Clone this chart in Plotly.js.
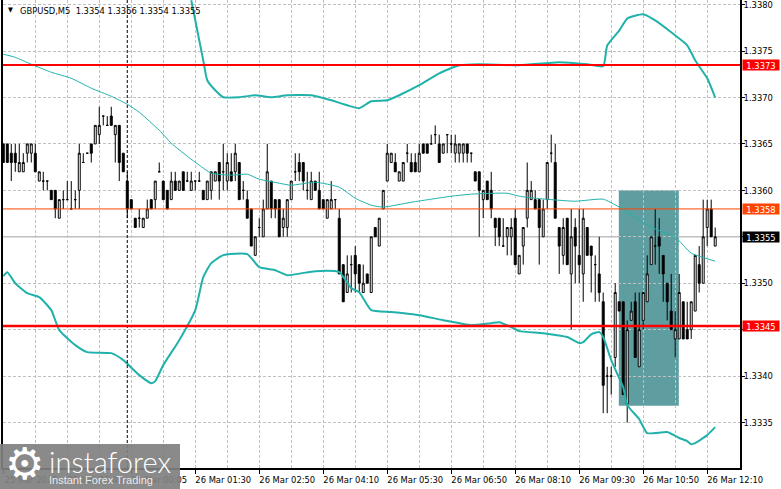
<!DOCTYPE html>
<html>
<head>
<meta charset="utf-8">
<script src="https://cdn.plot.ly/plotly-3.0.1.min.js"></script>
<style>
  html, body { margin: 0; padding: 0; background: #ffffff; }
  #chart { width: 781px; height: 489px; }
</style>
</head>
<body>
<div id="chart"></div>
<script>
// prices are stored as pips above 1.3300
const opens = [65,65,64,64,62,62,64,64,64,61,61,61,60,60,57,59,59,58,59,60,63,64,65,65,66,68,67,68,66,67,64,61,59,57,57,56,57,59,59,62,61,60,59,61,60,62,61,60,61,61,60,59,60,61,63,62,61,62,62,63,60,59,58,53,56,55,58,61,59,59,56,56,59,62,63,63,60,59,61,60,59,57,58,59,57,52,49,52,53,52,49,51,49,56,54,58,61,63,63,61,61,64,63,63,62,65,65,65,66,65,64,66,65,64,64,64,65,64,62,62,59,61,60,57,57,54,55,55,57,51,54,57,59,59,59,55,59,64,63,56,53,57,51,56,53,51,56,54,52,51,48,40,40,42,48,48,37,46,48,41,46,48,52,54,55,53,50,47,44,44,48,45,45,47,52,50,56,58,54];
const highs = [65,65,65,65,65,64,65,65,65,62,62,61,60,60,59,60,61,61,60,65,64,64,65,67,69,68,68,69,67,67,64,62,59,57,58,57,59,59,61,63,61,60,62,62,61,62,62,62,61,62,60,61,62,62,63,65,64,64,65,63,61,60,58,55,57,59,65,61,59,59,58,59,61,64,64,63,62,62,61,62,59,59,61,59,58,52,53,53,54,52,52,51,55,56,57,60,65,64,64,62,63,65,64,64,65,65,65,66,67,66,65,66,66,66,65,65,65,64,62,62,60,61,62,57,57,57,56,57,58,53,56,63,61,60,59,59,63,66,65,56,57,57,58,57,58,58,56,54,53,55,49,41,41,50,48,48,46,48,49,49,49,53,55,58,57,53,50,51,47,51,48,48,48,53,54,59,59,59,56];
const lows = [63,63,61,62,62,62,63,63,62,61,60,60,59,57,57,58,59,58,58,58,63,64,63,65,65,67,67,67,63,61,62,57,58,56,56,56,57,58,58,62,59,58,59,60,60,60,61,60,60,61,59,59,59,61,59,60,60,61,61,59,59,57,54,53,55,55,58,57,57,55,55,55,59,61,61,60,59,59,60,58,58,57,58,58,51,48,49,49,49,49,49,50,49,55,54,58,61,63,62,61,61,63,62,62,62,64,64,65,65,63,64,64,64,63,63,63,63,63,61,55,57,59,57,54,54,54,53,53,52,51,52,56,59,58,52,55,58,63,57,51,52,52,45,50,50,48,53,49,48,48,36,36,38,41,47,38,35,46,42,41,45,48,52,52,51,48,46,45,42,44,44,44,44,47,49,50,54,55,54];
const closes = [63,63,63,63,63,63,65,65,62,62,61,61,59,58,59,59,59,58,59,64,63,64,64,67,67,68,67,67,67,63,62,58,58,56,57,57,58,58,61,62,59,58,61,60,61,60,61,61,61,61,59,61,62,62,61,62,63,61,64,59,60,57,54,55,56,58,62,58,58,55,57,59,61,62,62,61,60,61,60,58,58,59,59,59,51,48,51,52,51,50,50,50,55,55,57,60,64,64,62,62,63,64,62,62,64,64,64,65,66,63,65,66,65,65,65,65,64,64,61,60,60,59,58,56,55,54,56,56,52,53,56,60,60,58,56,58,63,64,57,54,56,52,55,54,52,57,53,53,52,49,39,40,40,49,47,38,45,47,42,45,49,51,55,54,54,51,48,45,45,49,44,44,48,53,50,55,58,55,55];

const midBars = [0,3,7,12,17,22,27,31,34,39,42,46,49,52,57,61,64,69,72,78,84,88,92,95,102,107,112,117,126,129,133,143,150,154,162,168,172,178];
const midPips = [74.66,74.33,73.58,72.72,72.07,71.0,70.13,69.27,68.41,66.47,65.08,63.68,62.71,61.85,61.63,61.74,61.2,60.77,60.55,60.88,60.34,59.15,58.4,58.2,58.72,59.05,59.37,59.59,59.69,59.37,59.15,58.83,59.05,58.2,56.03,54.96,53.24,52.38];

const upperBars = [47,50,51,53,55,59,63,67,71,77,82,86,89,92,96,99,104,109,114,119,129,139,146,150,151,154,156,160,163,167,171,173,176,178];
const upperPips = [80.47,74.0,71.86,70.78,70.03,70.03,70.24,70.03,70.24,70.24,69.7,69.16,68.84,69.6,69.7,70.24,71.32,72.6,73.47,73.58,73.47,73.8,73.58,73.37,75.6,77.2,78.5,78.96,78.3,77.02,75.62,74.0,72.07,70.0];

const lowerBars = [0,1,3,6,9,12,14,18,21,27,30,34,37,38,40,44,48,50,52,55,61,64,68,71,78,84,87,89,92,97,104,110,117,122,124,127,129,135,141,144,145,147,149,150,152,154,155,156,159,161,166,169,171,172,173,176,178];
const lowerPips = [50.76,51.19,50.0,48.93,48.5,47.1,44.95,43.33,42.58,42.47,41.72,40.1,39.24,39.46,41.18,43.87,47.1,50.65,52.16,53.02,53.13,51.73,51.4,50.87,51.3,51.19,49.47,49.04,47.1,46.9,46.56,46.02,45.48,45.7,45.8,45.27,44.84,44.62,44.2,43.55,43.65,44.5,44.73,44.2,41.72,39.78,38.81,36.87,35.37,33.86,33.97,33.33,33.0,32.67,32.78,33.64,34.5];

const priceTicks = [1.3335,1.3340,1.3345,1.3350,1.3355,1.3360,1.3365,1.3370,1.3375,1.3380];
// 1.3345 and 1.3355 sit behind their price tags
const priceTickLabels = ['1.3335','1.3340','','1.3350','','1.3360','1.3365','1.3370','1.3375','1.3380'];
const timeTickBars = [0,16,32,48,64,80,96,112,128,144,160,176];
const timeTickLabels = ['25 Mar 2025','25 Mar 22:40','26 Mar 00:05','26 Mar 01:30','26 Mar 02:50','26 Mar 04:10','26 Mar 05:30','26 Mar 06:50','26 Mar 08:10','26 Mar 09:30','26 Mar 10:50','26 Mar 12:10'];
const gridBars = [8,24,40,56,72,88,104,120,136,152,168,184];

const levelPrices = [1.33735,1.33580,1.33454];
const levelColors = ['#ff0000','#ff4500','#ff0000'];
const levelWidths = [2,1,2.5];
const lastPrice = 1.3355;
const cursorBar = 31;
const zoneBars = [153.9,168.9];
const zonePrices = [1.33368,1.3360];
const tagTexts = ['1.3373','1.3358','1.3355','1.3345'];
const tagPrices = [1.33735,1.3358,1.3355,1.33454];
const tagColors = ['#ff0000','#ff4500','#000000','#ff0000'];

const toPrice = (pips) => 1.33 + pips / 10000;
const bars = opens.map((_, i) => i);
const axisFont = 'DejaVu Sans Condensed, DejaVu Sans, sans-serif';
const GRID_DASH = '3px,2px';

// plot box in px, used to place the non data furniture
const W = 781, H = 489, L = 3, R = 41, T = 0, B = 21;
const paperX = (px) => (px - L) / (W - L - R);
const paperY = (py) => (H - B - py) / (H - T - B);

const bandLine = (width) => ({ color: '#20b2aa', width: width, shape: 'spline', smoothing: 0.5 });

const traces = [
  {
    type: 'candlestick',
    x: bars,
    open: opens.map(toPrice),
    high: highs.map(toPrice),
    low: lows.map(toPrice),
    close: closes.map(toPrice),
    whiskerwidth: 0,
    increasing: { line: { color: '#000000', width: 1 }, fillcolor: '#ffffff' },
    decreasing: { line: { color: '#000000', width: 1 }, fillcolor: '#000000' },
    hoverinfo: 'skip'
  },
  { type: 'scatter', mode: 'lines', x: midBars, y: midPips.map(toPrice), line: bandLine(1), hoverinfo: 'skip' },
  { type: 'scatter', mode: 'lines', x: upperBars, y: upperPips.map(toPrice), line: bandLine(2), hoverinfo: 'skip' },
  { type: 'scatter', mode: 'lines', x: lowerBars, y: lowerPips.map(toPrice), line: bandLine(2), hoverinfo: 'skip' }
];

const shapes = [
  { type: 'rect', layer: 'below', xref: 'x', yref: 'y', x0: zoneBars[0], x1: zoneBars[1], y0: zonePrices[0], y1: zonePrices[1], fillcolor: '#5f9ea0', line: { width: 0 } },
  { type: 'line', layer: 'between', xref: 'paper', yref: 'y', x0: 0, x1: 1, y0: lastPrice, y1: lastPrice, line: { color: '#c0c0c0', width: 1.5 } },
  { type: 'line', layer: 'above', xref: 'x', yref: 'paper', x0: cursorBar, x1: cursorBar, y0: 0, y1: 1, line: { color: '#000000', width: 1, dash: '3px,2px' } }
];
levelPrices.forEach((p, i) => {
  shapes.push({ type: 'line', layer: 'above', xref: 'paper', yref: 'y', x0: 0, x1: 1, y0: p, y1: p, line: { color: levelColors[i], width: levelWidths[i] } });
});
// instaforex plate sits over the chart and the time labels
shapes.push({ type: 'rect', layer: 'above', xref: 'paper', yref: 'paper', x0: paperX(0), x1: paperX(180), y0: paperY(489), y1: paperY(444), fillcolor: 'rgba(128,128,128,0.92)', line: { width: 0 } });

const annotations = [
  { text: '▼', xref: 'paper', yref: 'paper', x: paperX(6), y: paperY(10), xanchor: 'left', yanchor: 'middle', showarrow: false, font: { family: axisFont, size: 7, color: '#000000' } },
  { text: 'GBPUSD,M5&nbsp;&nbsp;1.3354 1.3356 1.3354 1.3355', xref: 'paper', yref: 'paper', x: paperX(18), y: paperY(10), xanchor: 'left', yanchor: 'middle', showarrow: false, font: { family: axisFont, size: 9.3, color: '#000000' } },
  { text: '⚙', xref: 'paper', yref: 'paper', x: paperX(24), y: paperY(463), xanchor: 'center', yanchor: 'middle', showarrow: false, font: { family: 'DejaVu Sans', size: 44, color: '#ffffff' } },
  { text: 'instaforex', xref: 'paper', yref: 'paper', x: paperX(47), y: paperY(461), xanchor: 'left', yanchor: 'middle', showarrow: false, font: { family: 'Lato, sans-serif', size: 29, weight: 300, color: '#ffffff' } },
  { text: 'Instant Forex Trading', xref: 'paper', yref: 'paper', x: paperX(47), y: paperY(480), xanchor: 'left', yanchor: 'middle', showarrow: false, font: { family: 'Liberation Sans, sans-serif', size: 11, color: 'rgba(255,255,255,0.85)' } }
];
tagTexts.forEach((t, i) => {
  annotations.push({
    text: t, xref: 'paper', yref: 'y', x: paperX(742), y: tagPrices[i], xanchor: 'left', yanchor: 'middle',
    showarrow: false, bgcolor: tagColors[i], width: 36, height: 10, borderpad: 0, align: 'center',
    font: { family: axisFont, size: 9.3, color: '#ffffff' }
  });
});

const layout = {
  width: W,
  height: H,
  margin: { l: L, r: R, t: T, b: B, pad: 0 },
  paper_bgcolor: '#ffffff',
  plot_bgcolor: '#ffffff',
  showlegend: false,
  xaxis: {
    type: 'linear',
    range: [-0.07, 184.2],
    rangeslider: { visible: false },
    tickmode: 'array',
    tickvals: timeTickBars,
    ticktext: timeTickLabels,
    ticks: 'outside',
    ticklen: 4,
    tickcolor: '#000000',
    ticklabelshift: 28,
    ticklabelstandoff: -2,
    ticklabeloverflow: 'allow',
    tickfont: { family: axisFont, size: 9.3, color: '#000000' },
    tickangle: 0,
    showline: true,
    linecolor: '#000000',
    linewidth: 1.5,
    showgrid: true,
    gridcolor: '#c0c0c0',
    griddash: GRID_DASH,
    gridwidth: 1,
    zeroline: false,
    minor: { tickmode: 'array', tickvals: gridBars, showgrid: true, gridcolor: '#c0c0c0', griddash: GRID_DASH, gridwidth: 1, ticks: '' }
  },
  yaxis: {
    side: 'right',
    range: [1.33301, 1.33805],
    tickmode: 'array',
    tickvals: priceTicks,
    ticktext: priceTickLabels,
    ticks: 'outside',
    ticklen: 3,
    tickcolor: '#000000',
    ticklabelstandoff: -3,
    ticklabeloverflow: 'allow',
    tickfont: { family: axisFont, size: 9.3, color: '#000000' },
    showline: true,
    mirror: true,
    linecolor: '#000000',
    linewidth: 1.5,
    showgrid: true,
    gridcolor: '#c0c0c0',
    griddash: GRID_DASH,
    gridwidth: 1,
    zeroline: false
  },
  shapes: shapes,
  annotations: annotations
};

Plotly.newPlot('chart', traces, layout, { displayModeBar: false, responsive: false });
</script>
</body>
</html>
